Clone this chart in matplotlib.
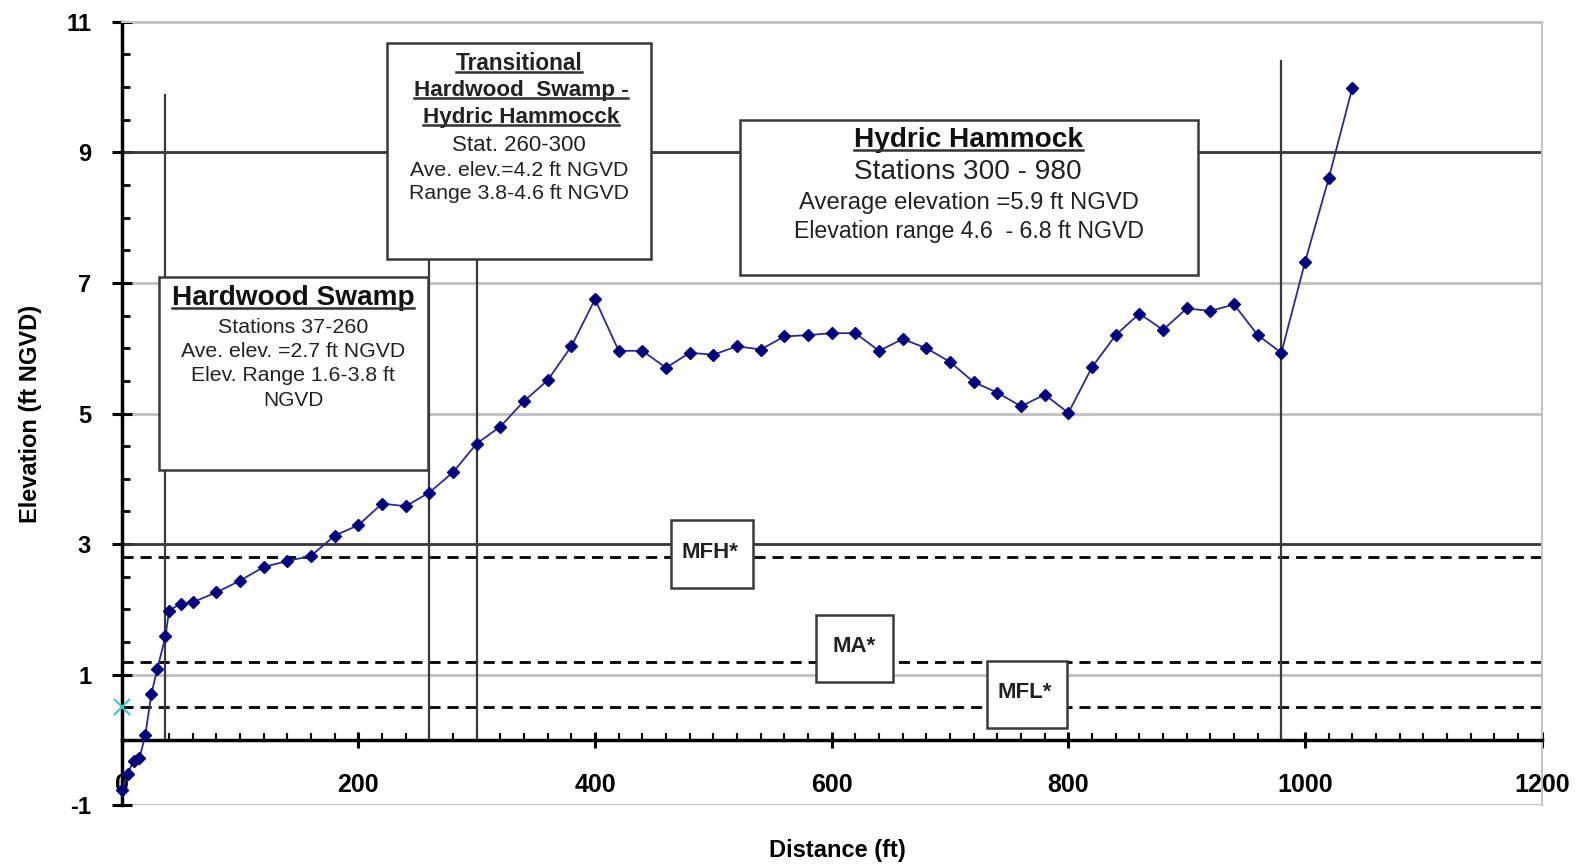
import numpy as np
import matplotlib
matplotlib.use('Agg')
import matplotlib.pyplot as plt
from matplotlib.patches import Rectangle
from matplotlib.lines import Line2D
from matplotlib.ticker import MultipleLocator

plt.rcParams['font.family'] = ['Liberation Sans', 'DejaVu Sans']
plt.rcParams['axes.unicode_minus'] = False

# Transect survey data
distance = [0, 5, 10, 15, 20, 25, 30, 37, 40, 50, 60, 80, 100, 120, 140, 160, 180, 200,
            220, 240, 260, 280, 300, 320, 340, 360, 380, 400, 420, 440, 460, 480, 500,
            520, 540, 560, 580, 600, 620, 640, 660, 680, 700, 720, 740, 760, 780, 800,
            820, 840, 860, 880, 900, 920, 940, 960, 980, 1000, 1020, 1040]
elevation = [-0.77, -0.52, -0.32, -0.28, 0.08, 0.70, 1.08, 1.59, 1.98, 2.09, 2.11, 2.26,
             2.44, 2.65, 2.74, 2.82, 3.13, 3.29, 3.62, 3.58, 3.79, 4.10, 4.54, 4.80, 5.19,
             5.51, 6.03, 6.75, 5.96, 5.96, 5.70, 5.93, 5.90, 6.03, 5.98, 6.18, 6.20, 6.23,
             6.23, 5.96, 6.14, 6.00, 5.79, 5.48, 5.32, 5.11, 5.29, 5.01, 5.71, 6.20, 6.53,
             6.28, 6.61, 6.57, 6.67, 6.20, 5.93, 7.32, 8.60, 9.99]

# community boundaries (station, top of line)
boundaries = [37, 260, 300, 980]
boundary_tops = [9.88, 9.88, 9.88, 10.4]

# reference levels
dark_levels = [3, 9]
minimum_levels = [2.8, 1.2, 0.5]   # MFH, MA, MFL
minimum_names = ['MFH*', 'MA*', 'MFL*']
marker_x, marker_y = 0, 0.5

W, H = 1585, 867
fig = plt.figure(figsize=(W / 100, H / 100), dpi=100)
ax_l, ax_r, ax_t, ax_b = 121.7, 1541.7, 21.7, 805.3
ax = fig.add_axes([ax_l / W, 1 - ax_b / H, (ax_r - ax_l) / W, (ax_b - ax_t) / H])
ax.set_xlim(0, 1200)
ax.set_ylim(-1, 11)


def px_x(p):
    return (p - ax_l) / (ax_r - ax_l) * 1200


def px_y(p):
    return 11 - (p - ax_t) / (ax_b - ax_t) * 12


# grid / frame
ax.set_yticks(np.arange(-1, 12, 2))
ax.yaxis.set_minor_locator(MultipleLocator(0.5))
ax.xaxis.set_major_locator(MultipleLocator(200))
ax.xaxis.set_minor_locator(MultipleLocator(20))
ax.yaxis.grid(True, color='#c4c4c4', lw=2.2, zorder=0)
ax.set_axisbelow(True)
for lev in dark_levels:
    ax.axhline(lev, color='#3a3a3a', lw=2.0, zorder=1)
for lev in minimum_levels:
    ax.axhline(lev, color='black', lw=2.0, ls=(0, (4, 2.5)), zorder=1)
for b, top in zip(boundaries, boundary_tops):
    ax.plot([b, b], [0, top], color='#3a3a3a', lw=1.6, zorder=1)

ax.spines['bottom'].set_position(('data', 0))
ax.spines['bottom'].set_linewidth(2.5)
ax.spines['left'].set_linewidth(2.5)
ax.spines['top'].set_color('#c4c4c4')
ax.spines['right'].set_color('#c4c4c4')
ax.spines['top'].set_linewidth(1.5)
ax.spines['right'].set_linewidth(1.5)
ax.axhline(-1, color='#c4c4c4', lw=2.2, zorder=0)

ax.tick_params(axis='y', which='major', direction='inout', length=14, width=2.2,
               pad=15, labelsize=17)
ax.tick_params(axis='y', which='minor', direction='in', length=6, width=2)
ax.tick_params(axis='x', which='major', direction='inout', length=12, width=2.2,
               pad=18, labelsize=18)
ax.tick_params(axis='x', which='minor', direction='in', length=5, width=1.5)
for lab in ax.get_xticklabels() + ax.get_yticklabels():
    lab.set_fontweight('bold')

fig.text(837 / W, 1 - 851 / H, 'Distance (ft)', ha='center', va='center',
         fontsize=17, fontweight='bold')
ax.set_ylabel('Elevation (ft NGVD)', fontsize=17, fontweight='bold')
ax.yaxis.set_label_coords(-0.056, 0.5)

# data
ax.plot(distance, elevation, color='#2a2a9a', lw=1.3, marker='D', ms=6.5,
        mfc='#000080', mec='#000080', zorder=6, clip_on=False)
ax.plot([marker_x], [marker_y], marker='x', color='#33cccc', ms=11, mew=1.5,
        zorder=7, clip_on=False)


def box(x0, x1, y0, y1):
    ax.add_patch(Rectangle((px_x(x0), px_y(y1)), px_x(x1) - px_x(x0),
                           px_y(y0) - px_y(y1), facecolor='white',
                           edgecolor='#3a3a3a', lw=1.8, zorder=4))


underlined = []


def label(cx, cy, s, size, bold=False, under=False, color='#222222'):
    t = ax.text(px_x(cx), px_y(cy), s, ha='center', va='center', fontsize=size,
                fontweight='bold' if bold else 'normal', color=color, zorder=5)
    if under:
        underlined.append(t)
    return t


# Transitional box
box(386.7, 651, 42.7, 259.3)
label(519, 63.3, 'Transitional', 16.3, bold=True, under=True)
label(521, 90.5, 'Hardwood  Swamp -', 16.2, bold=True, under=True)
label(521, 117, 'Hydric Hammocck', 16.2, bold=True, under=True)
label(519, 145, 'Stat. 260-300', 16)
label(519, 170.5, 'Ave. elev.=4.2 ft NGVD', 15.3)
label(519, 193, 'Range 3.8-4.6 ft NGVD', 15.3)

# Hydric Hammock box
box(740, 1198, 120, 275)
label(968, 140, 'Hydric Hammock', 20.2, bold=True, under=True, color='#111111')
label(968, 171.5, 'Stations 300 - 980', 20.2)
label(969, 203, 'Average elevation =5.9 ft NGVD', 17.2)
label(969, 231.5, 'Elevation range 4.6  - 6.8 ft NGVD', 16.7)

# Hardwood Swamp box
box(159.3, 428, 277, 470)
label(293, 298, 'Hardwood Swamp', 20.2, bold=True, under=True, color='#111111')
label(293, 327, 'Stations 37-260', 15.4)
label(293, 351.5, 'Ave. elev. =2.7 ft NGVD', 15.3)
label(293, 375.5, 'Elev. Range 1.6-3.8 ft', 15.3)
label(293, 400.5, 'NGVD', 15)

# minimum level boxes
box(670.7, 753.3, 520, 588.3)
label(710, 553, minimum_names[0], 16, bold=True)
box(815.7, 893.3, 615, 681.7)
label(854, 647, minimum_names[1], 16, bold=True)
box(986.7, 1066.7, 660.7, 728.3)
label(1025, 693, minimum_names[2], 16, bold=True)

fig.canvas.draw()
renderer = fig.canvas.get_renderer()
for t in underlined:
    bb = t.get_window_extent(renderer)
    y = (bb.y0 + 0.13 * bb.height) / H
    fig.add_artist(Line2D([bb.x0 / W, bb.x1 / W], [y, y], color='#333333', lw=1.8,
                          zorder=8))

fig.savefig('out.png', dpi=100)
